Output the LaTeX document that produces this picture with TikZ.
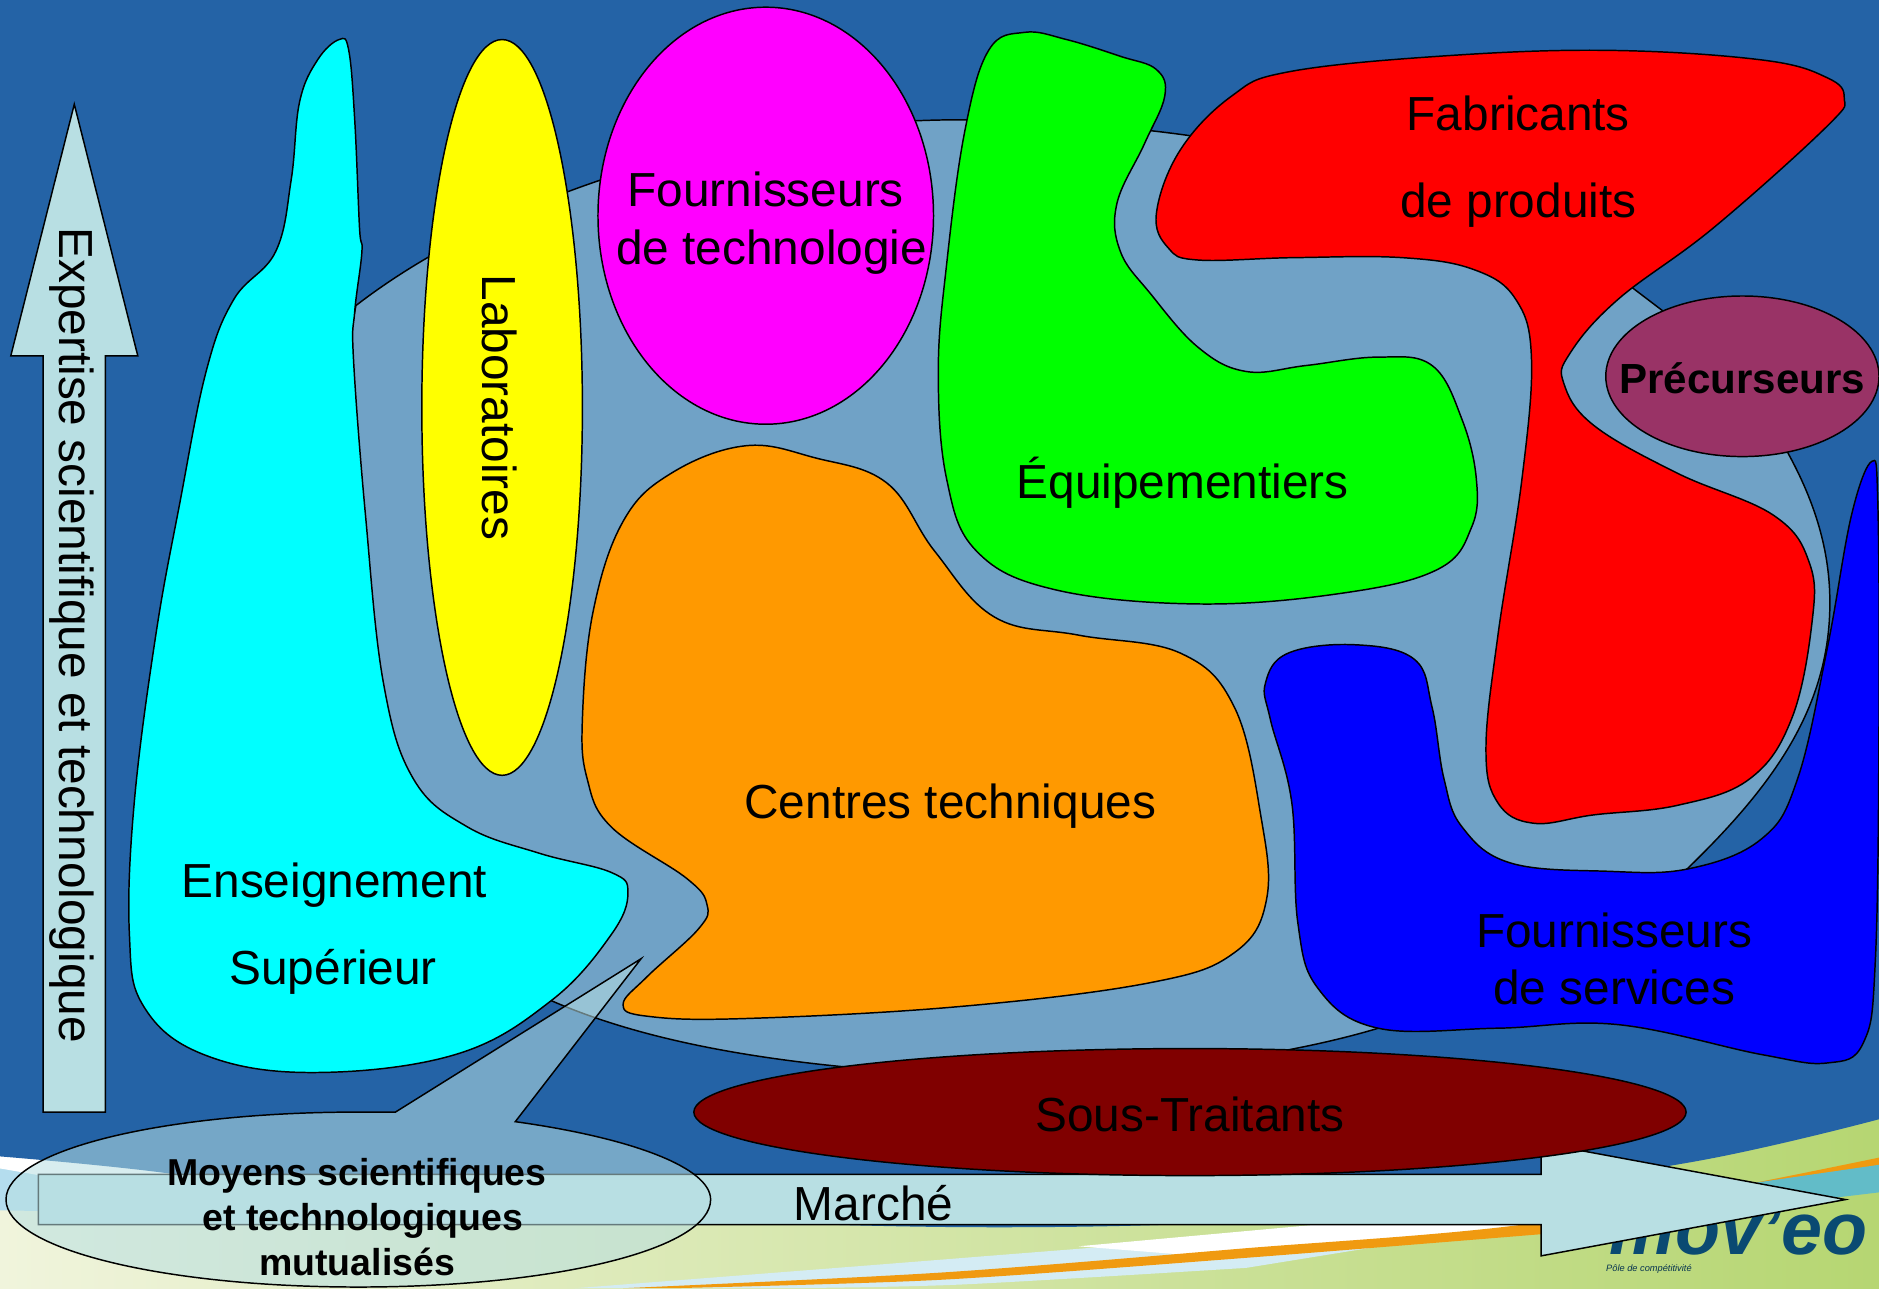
\documentclass[tikz,border=0pt]{standalone}
\usepackage{fontspec}
\setmainfont{Liberation Sans}
\usetikzlibrary{shapes.geometric,shapes.arrows}
\definecolor{bgblue}{HTML}{2463A6}
\definecolor{blobblue}{HTML}{70A2C6}
\definecolor{arrowfill}{HTML}{B8DFE3}
\definecolor{plum}{HTML}{993366}
\definecolor{darkred}{HTML}{800000}
\definecolor{orangeb}{HTML}{FF9900}
\definecolor{logoblue}{HTML}{0A4A72}
\definecolor{purecyan}{HTML}{00FFFF}
\definecolor{puremag}{HTML}{FF00FF}
\definecolor{pureyel}{HTML}{FFFF00}
\definecolor{puregreen}{HTML}{00FF00}
\definecolor{purered}{HTML}{FF0000}
\definecolor{pureblue}{HTML}{0000FF}
\definecolor{cream}{HTML}{F0F4DC}
\definecolor{midgreen}{HTML}{DCE9BC}
\definecolor{leaf}{HTML}{B6D672}
\definecolor{paleblue}{HTML}{D4ECF4}
\definecolor{skyb}{HTML}{B4DDEE}
\definecolor{swoosh}{HTML}{F09A10}
\definecolor{teal}{HTML}{62BCC8}
\tikzset{
  blob/.style={draw=black,line width=0.7pt},
  lab/.style={font=\fontsize{22.7}{27}\selectfont,text=black,inner sep=0pt,align=center},
  blab/.style={font=\bfseries\fontsize{17.8}{21}\selectfont,text=black,inner sep=0pt,align=center},
  tens/.style={smooth cycle,tension=0.65},
}
\begin{document}
\begin{tikzpicture}[x=0.02cm,y=-0.02cm]
\useasboundingbox (0,0) rectangle (1568,1075);
% ---- background
\shade[left color=cream,middle color=midgreen,right color=leaf] (0,900) rectangle (1568,1075);
\fill[skyb] plot[smooth] coordinates {(0,975) (120,985) (260,1015)} -- (120,1012) -- (0,1010) -- cycle;
\fill[white] (0,960) -- (190,985) -- (40,982) -- (0,975) -- cycle;
\fill[paleblue] plot[smooth] coordinates {(480,1075) (800,1050) (1040,1030) (1300,1000)} -- (1300,1016) -- plot[smooth] coordinates {(1040,1058) (800,1072) (650,1075)} -- cycle;
\fill[white] (900,1040) -- (1285,1005) -- (1285,1024) -- (1000,1048) -- cycle;
\fill[swoosh] plot[smooth] coordinates {(520,1075) (784,1062) (1035,1042) (1285,1020) (1568,966)} -- (1568,984) -- plot[smooth] coordinates {(1285,1030) (1035,1050) (784,1068) (560,1075)} -- cycle;
\fill[teal] (1430,992) -- (1568,972) -- (1568,995) -- (1460,1008) -- cycle;
\fill[bgblue] (0,0) -- (1568,0) -- (1568,934) -- plot[smooth] coordinates {(1568,934) (1410,970) (1100,1015) (800,1024) (400,1010) (115,976) (0,965)} -- cycle;
% ---- logo
\node[anchor=base,inner sep=0pt,text=logoblue,font=\bfseries\itshape\fontsize{35}{38}\selectfont] (logo) at (1451,1047) {mov'eo};
\node[inner sep=0pt,text=logoblue!70!black,font=\itshape\fontsize{4.4}{5}\selectfont] (logosub) at (1376,1059) {Pôle de compétitivité};
% ---- central region
\draw[blob,fill=blobblue] (297,255) .. controls (420,160) and (620,100) .. (800,100) .. controls (1050,100) and (1260,165) .. (1362,240) -- (1387,259) .. controls (1430,290) and (1470,340) .. (1492,378) .. controls (1515,420) and (1527,460) .. (1527,503) .. controls (1527,590) and (1480,655) .. (1409,724) .. controls (1340,790) and (1260,825) .. (1160,855) .. controls (1050,890) and (900,900) .. (800,897) .. controls (650,890) and (540,870) .. (460,835) -- (300,700) -- (270,400) -- cycle;
% ---- blobs
\draw[blob,fill=purecyan] plot[tens] coordinates {(283,33) (291,42) (296,100) (300,190) (302,210) (296,260) (295,300) (305,430) (320,570) (345,650) (390,690) (450,712) (510,728) (524,745) (510,780) (460,835) (380,880) (260,895) (170,880) (120,840) (108,780) (112,670) (130,530) (150,420) (172,310) (195,250) (230,210) (243,150) (250,85) (265,50)};
\draw[blob,fill=pureyel] (419,340) ellipse [x radius=67,y radius=307];
\draw[blob,fill=puremag] (639,180) ellipse [x radius=140,y radius=174];
\draw[blob,fill=orangeb] plot[tens] coordinates {(622,372) (680,382) (740,403) (780,460) (830,515) (900,530) (985,545) (1030,590) (1052,680) (1057,750) (1030,795) (960,820) (800,840) (620,850) (540,848) (520,838) (540,815) (583,775) (590,755) (573,733) (510,690) (490,650) (486,600) (495,510) (520,435) (560,395)};
\draw[blob,fill=puregreen] plot[tens] coordinates {(855,27) (825,42) (805,110) (790,220) (783,310) (790,400) (815,460) (880,492) (1000,504) (1120,495) (1200,475) (1228,440) (1232,400) (1220,350) (1195,305) (1150,298) (1090,305) (1040,310) (1000,290) (960,245) (935,210) (932,170) (955,120) (972,80) (965,58) (935,47) (890,33)};
\draw[blob,fill=purered] plot[tens] coordinates {(1340,42) (1470,50) (1525,65) (1539,82) (1525,105) (1430,190) (1350,250) (1310,295) (1305,320) (1330,355) (1400,395) (1480,430) (1510,470) (1512,520) (1495,600) (1460,650) (1400,672) (1330,680) (1280,687) (1250,670) (1240,625) (1250,530) (1270,400) (1278,300) (1265,250) (1230,225) (1170,215) (1080,215) (1000,217) (975,207) (965,178) (985,125) (1028,80) (1075,60) (1200,47)};
\draw[blob,fill=plum] (1454,314) ellipse [x radius=114,y radius=67];
\draw[blob,fill=pureblue] plot[tens] coordinates {(1056,570) (1075,545) (1130,538) (1180,550) (1195,590) (1205,650) (1220,690) (1260,720) (1340,727) (1409,725) (1470,700) (1500,650) (1525,540) (1545,430) (1562,385) (1567,420) (1568,600) (1565,800) (1555,870) (1525,887) (1470,880) (1350,855) (1250,858) (1150,858) (1100,825) (1083,770) (1078,670) (1060,600)};
% ---- arrows
\draw[blob,fill=arrowfill] (62,87) -- (115,297) -- (88,297) -- (88,928) -- (36,928) -- (36,297) -- (9,297) -- cycle;
\draw[blob,fill=arrowfill] (32,980) -- (1286,980) -- (1286,954) -- (1540,1001) -- (1286,1048) -- (1286,1022) -- (32,1022) -- cycle;
\draw[blob,fill=darkred] (993,928) ellipse [x radius=414,y radius=53];
% ---- callout
\draw[blob,fill=arrowfill,fill opacity=0.55] (330,928) -- (535,800) -- (430,936) .. controls (530,950) and (593,975) .. (593,1001) .. controls (593,1042) and (465,1074) .. (299,1074) .. controls (135,1074) and (5,1042) .. (5,1001) .. controls (5,960) and (135,928) .. (299,928) -- cycle;
% ---- labels
\node[lab] (fab) at (1267,95) {Fabricants};
\node[lab] (pro) at (1267,171) {de produits};
\node[blab,font=\bfseries\fontsize{20}{23}\selectfont] (pre) at (1454,316) {Précurseurs};
\node[lab] (equ) at (987,403) {Équipementiers};
\node[lab] (cen) at (793,673) {Centres techniques};
\node[lab] (ens) at (279,739) {Enseignement};
\node[lab] (sup) at (278,811) {Supérieur};
\node[lab] (ft1) at (639,158) {Fournisseurs};
\node[lab] (ft2) at (644,210) {de technologie};
\node[lab,rotate=-90] (labo) at (417,340) {Laboratoires};
\node[lab] (fs1) at (1347,776) {Fournisseurs};
\node[lab] (fs2) at (1347,824) {de services};
\node[lab] (sou) at (993,930) {Sous-Traitants};
\node[lab] (mar) at (729,1004) {Marché};
\node[lab,rotate=-90] (exp) at (60,530) {Expertise scientifique et technologique};
\node[blab] (m1) at (298,981) {Moyens scientifiques};
\node[blab] (m2) at (303,1019) {et technologiques};
\node[blab] (m3) at (298,1053) {mutualisés};
\end{tikzpicture}
\end{document}
